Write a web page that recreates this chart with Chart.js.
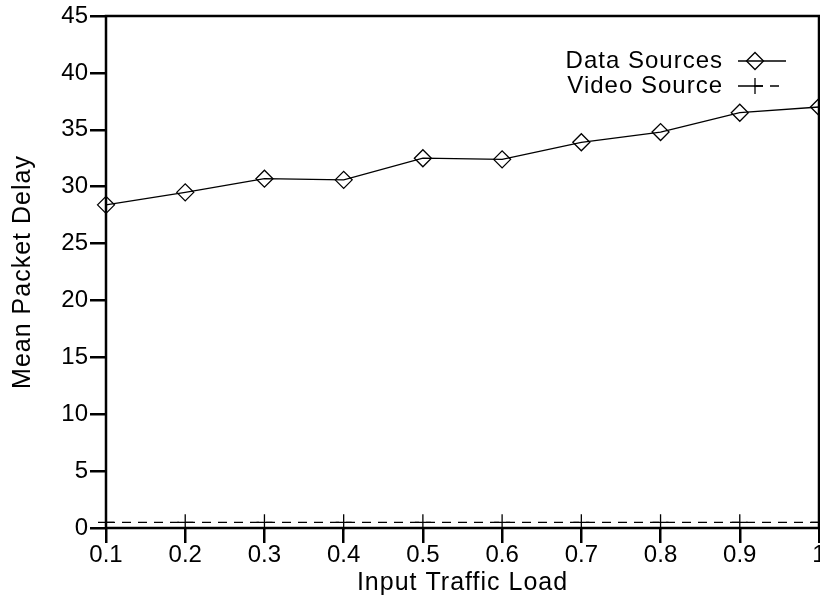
<!DOCTYPE html>
<html>
<head>
<meta charset="utf-8">
<script src="https://cdn.jsdelivr.net/npm/chart.js@4.4.1/dist/chart.umd.min.js"></script>
<style>
  html, body { margin: 0; padding: 0; background: #fff; overflow: hidden; }
  #wrap { width: 820px; height: 598px; position: relative; }
</style>
</head>
<body>
<div id="wrap"><canvas id="c"></canvas></div>
<script>
// ---- data ----
const loads = [0.1, 0.2, 0.3, 0.4, 0.5, 0.6, 0.7, 0.8, 0.9, 1.0];
const xTickLabels = ['0.1', '0.2', '0.3', '0.4', '0.5', '0.6', '0.7', '0.8', '0.9', '1'];
const yTickValues = [0, 5, 10, 15, 20, 25, 30, 35, 40, 45];
const dataSourcesDelay = [28.4, 29.5, 30.7, 30.6, 32.5, 32.4, 33.9, 34.8, 36.5, 37.0];
const videoSourceDelay = [0.5, 0.5, 0.5, 0.5, 0.5, 0.5, 0.5, 0.5, 0.5, 0.5];
const seriesLabels = ['Data Sources', 'Video Source'];
const xTitle = 'Input Traffic Load';
const yTitle = 'Mean Packet Delay';

const FONT = '"Liberation Sans", Arial, Helvetica, sans-serif';

function toPoints(xs, ys) { return xs.map((x, i) => ({ x: x, y: ys[i] })); }

function drawMarker(ctx, style, r, x, y) {
  ctx.beginPath();
  if (style === 'rectRot') {
    ctx.moveTo(x - r, y); ctx.lineTo(x, y - r); ctx.lineTo(x + r, y); ctx.lineTo(x, y + r); ctx.closePath();
  } else {
    ctx.moveTo(x - r, y); ctx.lineTo(x + r, y); ctx.moveTo(x, y - r); ctx.lineTo(x, y + r);
  }
  ctx.stroke();
}

const spacingPlugin = {
  id: 'spacing',
  beforeDraw(chart) { chart.ctx.letterSpacing = '1px'; },
  beforeDatasetsDraw(chart) {
    chart.ctx.letterSpacing = '0px';
    const ctx = chart.ctx, a = chart.chartArea;
    ctx.save();
    ctx.strokeStyle = '#000';
    ctx.lineWidth = 2.5;
    ctx.strokeRect(a.left, a.top, a.right - a.left, a.bottom - a.top);
    ctx.restore();
  }
};

const legendPlugin = {
  id: 'rightLegend',
  afterDraw(chart) {
    const ctx = chart.ctx;
    const rows = [68, 93];
    const lineEnds = [786, 780];
    ctx.save();
    ctx.font = '24px ' + FONT;
    ctx.letterSpacing = '1px';
    ctx.fillStyle = '#000';
    ctx.strokeStyle = '#000';
    ctx.textAlign = 'right';
    ctx.textBaseline = 'alphabetic';
    chart.data.datasets.forEach((ds, i) => {
      const base = rows[i];
      ctx.fillText(ds.label, 723, base);
      const ly = base - 7;
      ctx.lineWidth = ds.borderWidth;
      ctx.setLineDash(ds.borderDash || []);
      ctx.beginPath(); ctx.moveTo(738, ly); ctx.lineTo(lineEnds[i], ly); ctx.stroke();
      ctx.setLineDash([]);
      ctx.lineWidth = ds.pointBorderWidth;
      drawMarker(ctx, ds.pointStyle, ds.pointRadius, 755, ly);
    });
    ctx.restore();
  }
};

new Chart(document.getElementById('c'), {
  type: 'line',
  data: {
    datasets: [
      {
        label: seriesLabels[0],
        data: toPoints(loads, dataSourcesDelay),
        borderColor: '#000',
        borderWidth: 1.3,
        pointStyle: 'rectRot',
        pointRadius: 8.5,
        pointBorderWidth: 1.3,
        pointBorderColor: '#000',
        pointBackgroundColor: 'rgba(0,0,0,0)',
        tension: 0,
        clip: false
      },
      {
        label: seriesLabels[1],
        data: toPoints(loads, videoSourceDelay),
        borderColor: '#000',
        borderWidth: 1.3,
        borderDash: [9, 7],
        pointStyle: 'cross',
        pointRadius: 8,
        pointBorderWidth: 1.3,
        pointBorderColor: '#000',
        pointBackgroundColor: 'rgba(0,0,0,0)',
        tension: 0,
        clip: false
      }
    ]
  },
  options: {
    responsive: true,
    maintainAspectRatio: false,
    animation: false,
    events: [],
    layout: { autoPadding: false, padding: { top: 16, right: 1, bottom: 0, left: 0 } },
    plugins: { legend: { display: false }, tooltip: { enabled: false } },
    scales: {
      x: {
        type: 'linear',
        min: loads[0],
        max: loads[loads.length - 1],
        afterBuildTicks: (s) => { s.ticks = loads.map(v => ({ value: v })); },
        afterFit: (s) => { s.height = 70; s.paddingLeft = 0; s.paddingRight = 0; },
        grid: { display: true, drawOnChartArea: false, drawTicks: true, tickLength: 15, lineWidth: 2.5, color: '#000' },
        border: { display: false },
        ticks: {
          z: 1,
          autoSkip: false,
          maxRotation: 0,
          padding: 0,
          color: '#000',
          font: { family: FONT, size: 24, lineHeight: 1 },
          callback: (v, i) => xTickLabels[i]
        },
        title: { display: true, text: xTitle, color: '#000', font: { family: FONT, size: 25, lineHeight: 1.2 }, padding: { top: 0, bottom: 0 } }
      },
      y: {
        min: yTickValues[0],
        max: yTickValues[yTickValues.length - 1],
        afterBuildTicks: (s) => { s.ticks = yTickValues.map(v => ({ value: v })); },
        afterFit: (s) => { s.width = 106; s.paddingTop = 0; s.paddingBottom = 0; },
        grid: { display: true, drawOnChartArea: false, drawTicks: true, tickLength: 16, lineWidth: 2.5, color: '#000' },
        border: { display: false },
        ticks: {
          z: 1,
          padding: 2,
          color: '#000',
          font: { family: FONT, size: 24, lineHeight: 1.2 },
          callback: (v) => String(v)
        },
        title: { display: true, text: yTitle, color: '#000', font: { family: FONT, size: 25, lineHeight: 1.2 }, padding: { top: 8, bottom: 0 } }
      }
    }
  },
  plugins: [spacingPlugin, legendPlugin]
});
</script>
</body>
</html>
